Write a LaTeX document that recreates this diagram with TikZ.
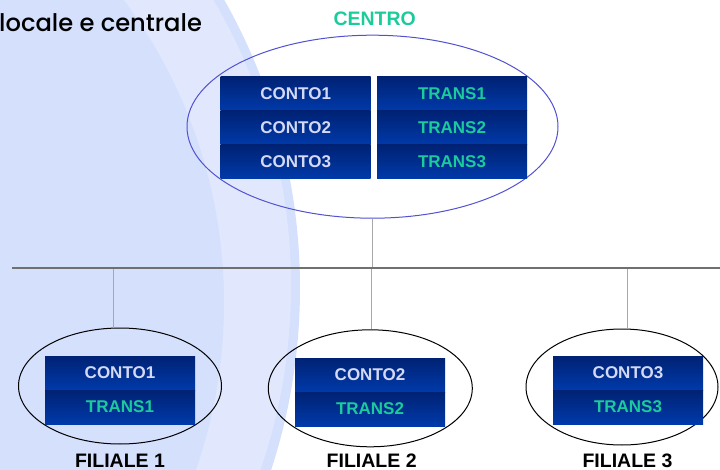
\documentclass[tikz,border=0pt]{standalone}
\usepackage{fontspec}
\setmainfont{Liberation Sans}
\newfontfamily\titlefont{Poppins Medium}
\usetikzlibrary{shapes.geometric}

\definecolor{bginner}{RGB}{213,224,253}
\definecolor{bgband}{RGB}{225,232,253}
\definecolor{bgring}{RGB}{213,224,253}
\definecolor{boxtop}{RGB}{0,34,116}
\definecolor{boxbot}{RGB}{0,58,170}
\definecolor{contotxt}{RGB}{212,218,246}
\definecolor{transtxt}{RGB}{27,203,155}
\definecolor{centreline}{RGB}{82,82,208}
\definecolor{busgray}{RGB}{112,112,112}
\definecolor{stemgray}{RGB}{168,168,168}

\begin{document}
\begin{tikzpicture}[x=1pt,y=-1pt,
  cell/.style={rectangle, inner sep=0pt, outer sep=0pt,
    minimum width=150pt, minimum height=34pt,
    top color=boxtop, bottom color=boxbot,
    font=\fontsize{17}{17}\selectfont\bfseries},
  conto/.style={cell, text=contotxt},
  trans/.style={cell, text=transtxt},
  site/.style={ellipse, draw, inner sep=0pt, line width=1pt},
  sitename/.style={font=\fontsize{19.5}{19.5}\selectfont\bfseries,
    inner sep=0pt, anchor=base},
  bus/.style={busgray, line width=1.2pt},
  stem/.style={stemgray, line width=0.9pt}]

\useasboundingbox (0,0) rectangle (720,470);

% background arcs
\begin{scope}
  \clip (0,0) rectangle (720,470);
  \fill[bgring]  (-285,288) circle[radius=585pt];
  \fill[bgband]  (-274,286) circle[radius=565pt];
  \fill[bginner] (-284,303) circle[radius=508pt];
\end{scope}

% heading
\node[anchor=base west, inner sep=0pt,
      font=\titlefont\fontsize{24.2}{24.2}\selectfont] (title)
      at (-1,31.7) {locale e centrale};

% central site
\node[sitename, text=transtxt] (centrolbl) at (374.7,25.7) {CENTRO};
\node[site, draw=centreline, minimum width=371pt, minimum height=183pt]
      (centro) at (372.5,126.7) {};
\node[conto] (cconto1) at (295.7,94)  {CONTO1};
\node[conto] (cconto2) at (295.7,128) {CONTO2};
\node[conto] (cconto3) at (295.7,162) {CONTO3};
\node[trans] (ctrans1) at (452,94)  {TRANS1};
\node[trans] (ctrans2) at (452,128) {TRANS2};
\node[trans] (ctrans3) at (452,162) {TRANS3};

% branch sites
\node[site, minimum width=203pt, minimum height=116pt] (fil1) at (120,386) {};
\node[site, minimum width=204pt, minimum height=117pt] (fil2) at (370.3,388.3) {};
\node[site, minimum width=192pt, minimum height=116pt] (fil3) at (622,387) {};

\node[conto] (f1conto) at (120,373) {CONTO1};
\node[trans] (f1trans) at (120,407) {TRANS1};
\node[conto] (f2conto) at (370,375) {CONTO2};
\node[trans] (f2trans) at (370,409) {TRANS2};
\node[conto] (f3conto) at (628,373) {CONTO3};
\node[trans] (f3trans) at (628,407) {TRANS3};

\node[sitename] (fil1lbl) at (120,467)   {FILIALE 1};
\node[sitename] (fil2lbl) at (371.7,467) {FILIALE 2};
\node[sitename] (fil3lbl) at (627.5,467) {FILIALE 3};

% network
\coordinate (busL) at (12,268);
\coordinate (busR) at (720,268);
\coordinate (tap1) at (113.4,268);
\coordinate (tap2) at (371,268);
\coordinate (tap3) at (627.6,268);

\draw[stem] (centro.south) -- (centro.south |- busL);
\draw[stem] (tap1) -- (tap1 |- fil1.north);
\draw[stem] (tap2) -- (tap2 |- fil2.north);
\draw[stem] (tap3) -- (tap3 |- fil3.north);
\draw[bus] (busL) -- (busR);
\end{tikzpicture}
\end{document}
